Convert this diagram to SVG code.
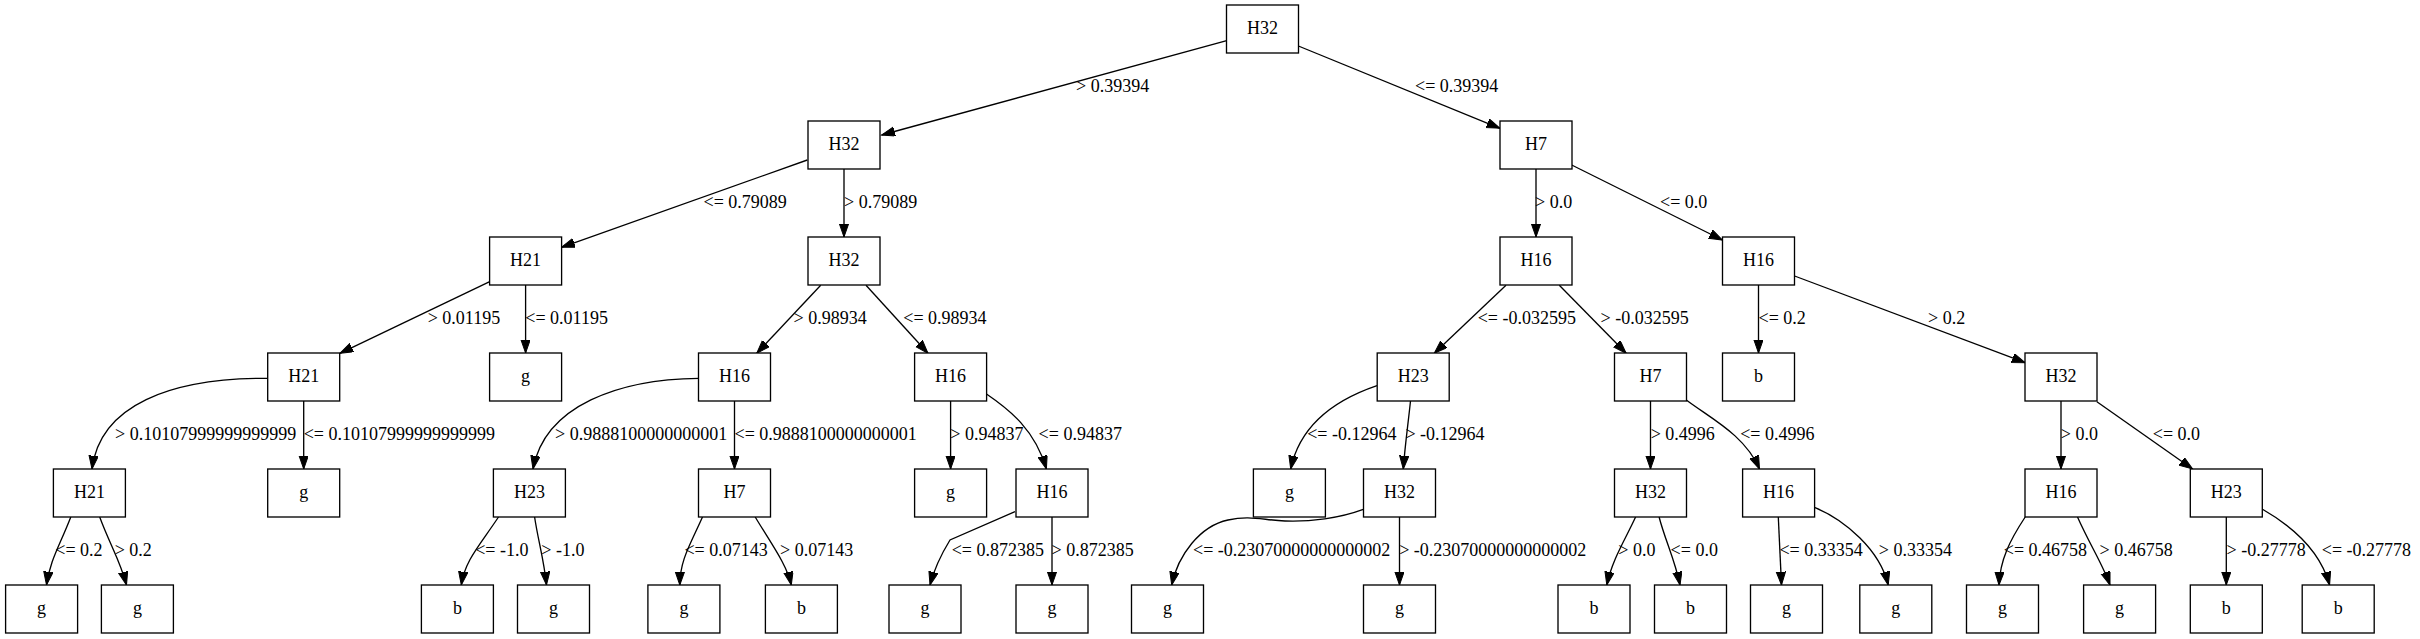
<svg xmlns="http://www.w3.org/2000/svg" width="2420" height="639" viewBox="0 0 2420 639">
<style>
.n rect{fill:#fff;stroke:#000;stroke-width:1.33}
.n text{font-family:"Liberation Serif","Times New Roman",serif;font-size:18px;text-anchor:middle;fill:#000}
.e path{fill:none;stroke:#000;stroke-width:1.33;marker-end:url(#ah)}
.l text{font-family:"Liberation Serif","Times New Roman",serif;font-size:18px;fill:#000}
</style>
<defs>
<marker id="ah" markerUnits="userSpaceOnUse" markerWidth="15" markerHeight="11" refX="13.3" refY="4.67" orient="auto">
<path d="M0,0 L13.3,4.67 L0,9.33 Z" fill="#000" stroke="#000" stroke-width="1"/>
</marker>
</defs>
<rect width="2420" height="639" fill="#fff"/>
<g id="connectors" class="e">
<path d="M1226.7,40.7 L881.6,135"/>
<path d="M1298.4,46 L1499.9,128.3"/>
<path d="M807.3,160 L561.5,247.3"/>
<path d="M844,169 L844,237"/>
<path d="M1536,169 L1536,237"/>
<path d="M1571.7,165 L1722.4,240"/>
<path d="M489.7,281.7 L339.9,353.3"/>
<path d="M525.6,285 L525.6,353"/>
<path d="M820.7,285.3 L756.7,353.3"/>
<path d="M866,285.3 L928,353.3"/>
<path d="M1506,285.3 L1434.3,353.3"/>
<path d="M1559.3,285.3 L1626.2,353.3"/>
<path d="M1758.5,285 L1758.5,353"/>
<path d="M1794.6,276 L2025.2,362.7"/>
<path d="M267.7,378.3 C170,378 100,405 92,469"/>
<path d="M303.7,401 L303.7,469"/>
<path d="M699,378.3 C620,379 545,405 533,469"/>
<path d="M734.5,401 L734.5,469"/>
<path d="M950.6,401 L950.6,469"/>
<path d="M986.5,394 C1010,410 1035,430 1046.4,469"/>
<path d="M1377,385.7 C1335,400 1300,425 1290.7,469"/>
<path d="M1410.5,401 C1408,425 1405,445 1403.3,469"/>
<path d="M1650.5,401 L1650.5,469"/>
<path d="M1686.3,400 C1710,418 1745,435 1759.5,469"/>
<path d="M2061,401 L2061,469"/>
<path d="M2096.9,401.7 L2192.6,469"/>
<path d="M70.8,517 C60,545 50,560 46.5,585"/>
<path d="M99.7,517 C110,545 120,560 126.5,585"/>
<path d="M498.5,517 C480,545 465,560 461.3,585"/>
<path d="M534.6,517 C538,540 544,560 546.5,585"/>
<path d="M702.5,517 C690,545 680,560 679.8,585"/>
<path d="M755.2,517 C772,545 787,565 791.3,585"/>
<path d="M1015,511.7 L950,540 C942,553 934,570 930,585"/>
<path d="M1052,517 L1052,585"/>
<path d="M1363.3,509.3 C1340,518 1310,522 1285,521 C1262,520 1250,515 1228,520 C1200,526 1178,555 1171.7,585"/>
<path d="M1399.5,517 L1399.5,585"/>
<path d="M1635.6,517 C1625,540 1612,560 1606.8,585"/>
<path d="M1659.1,517 C1665,540 1675,560 1680,585"/>
<path d="M1778.3,517 L1781.5,585"/>
<path d="M1814.4,507.3 C1845,520 1880,550 1888.2,585"/>
<path d="M2025.2,517 C2010,540 2000,560 1999,585"/>
<path d="M2077.5,517 C2090,545 2103,565 2110,585"/>
<path d="M2226.3,517 L2226.3,585"/>
<path d="M2262.1,509 C2290,525 2320,550 2329.6,585"/>
</g>
<g id="edge-labels" class="l">
<text x="1076" y="92">&gt; 0.39394</text>
<text x="1415" y="92">&lt;= 0.39394</text>
<text x="703.5" y="208">&lt;= 0.79089</text>
<text x="844" y="208">&gt; 0.79089</text>
<text x="1535" y="208">&gt; 0.0</text>
<text x="1660" y="208">&lt;= 0.0</text>
<text x="427.7" y="324">&gt; 0.01195</text>
<text x="525.3" y="324">&lt;= 0.01195</text>
<text x="793.5" y="324">&gt; 0.98934</text>
<text x="903.3" y="324">&lt;= 0.98934</text>
<text x="1477.7" y="324">&lt;= -0.032595</text>
<text x="1600.5" y="324">&gt; -0.032595</text>
<text x="1758.5" y="324">&lt;= 0.2</text>
<text x="1928" y="324">&gt; 0.2</text>
<text x="115" y="440">&gt; 0.10107999999999999</text>
<text x="303.7" y="440">&lt;= 0.10107999999999999</text>
<text x="555" y="440">&gt; 0.9888100000000001</text>
<text x="734.5" y="440">&lt;= 0.9888100000000001</text>
<text x="950.3" y="440">&gt; 0.94837</text>
<text x="1038.6" y="440">&lt;= 0.94837</text>
<text x="1307.2" y="440">&lt;= -0.12964</text>
<text x="1405.4" y="440">&gt; -0.12964</text>
<text x="1650.7" y="440">&gt; 0.4996</text>
<text x="1740.2" y="440">&lt;= 0.4996</text>
<text x="2060.8" y="440">&gt; 0.0</text>
<text x="2152.8" y="440">&lt;= 0.0</text>
<text x="55.3" y="556">&lt;= 0.2</text>
<text x="114.7" y="556">&gt; 0.2</text>
<text x="475.2" y="556">&lt;= -1.0</text>
<text x="541.3" y="556">&gt; -1.0</text>
<text x="684.4" y="556">&lt;= 0.07143</text>
<text x="780" y="556">&gt; 0.07143</text>
<text x="951.7" y="556">&lt;= 0.872385</text>
<text x="1051.5" y="556">&gt; 0.872385</text>
<text x="1193" y="556">&lt;= -0.23070000000000002</text>
<text x="1399.2" y="556">&gt; -0.23070000000000002</text>
<text x="1618.3" y="556">&gt; 0.0</text>
<text x="1670.6" y="556">&lt;= 0.0</text>
<text x="1779.4" y="556">&lt;= 0.33354</text>
<text x="1878.8" y="556">&gt; 0.33354</text>
<text x="2003.8" y="556">&lt;= 0.46758</text>
<text x="2099.5" y="556">&gt; 0.46758</text>
<text x="2226.6" y="556">&gt; -0.27778</text>
<text x="2321.8" y="556">&lt;= -0.27778</text>
</g>
<g id="n0" class="n"><rect x="1226.5" y="5" width="72" height="48"/><text x="1262.5" y="34">H32</text></g>
<g id="n1" class="n"><rect x="808" y="121" width="72" height="48"/><text x="844" y="150">H32</text></g>
<g id="n2" class="n"><rect x="1500" y="121" width="72" height="48"/><text x="1536" y="150">H7</text></g>
<g id="n3" class="n"><rect x="489.6" y="237" width="72" height="48"/><text x="525.6" y="266">H21</text></g>
<g id="n4" class="n"><rect x="808" y="237" width="72" height="48"/><text x="844" y="266">H32</text></g>
<g id="n5" class="n"><rect x="1500" y="237" width="72" height="48"/><text x="1536" y="266">H16</text></g>
<g id="n6" class="n"><rect x="1722.5" y="237" width="72" height="48"/><text x="1758.5" y="266">H16</text></g>
<g id="n7" class="n"><rect x="267.7" y="353" width="72" height="48"/><text x="303.7" y="382">H21</text></g>
<g id="n8" class="n"><rect x="489.6" y="353" width="72" height="48"/><text x="525.6" y="382">g</text></g>
<g id="n9" class="n"><rect x="698.5" y="353" width="72" height="48"/><text x="734.5" y="382">H16</text></g>
<g id="n10" class="n"><rect x="914.6" y="353" width="72" height="48"/><text x="950.6" y="382">H16</text></g>
<g id="n11" class="n"><rect x="1377.2" y="353" width="72" height="48"/><text x="1413.2" y="382">H23</text></g>
<g id="n12" class="n"><rect x="1614.5" y="353" width="72" height="48"/><text x="1650.5" y="382">H7</text></g>
<g id="n13" class="n"><rect x="1722.5" y="353" width="72" height="48"/><text x="1758.5" y="382">b</text></g>
<g id="n14" class="n"><rect x="2025" y="353" width="72" height="48"/><text x="2061" y="382">H32</text></g>
<g id="n15" class="n"><rect x="53.4" y="469" width="72" height="48"/><text x="89.4" y="498">H21</text></g>
<g id="n16" class="n"><rect x="267.7" y="469" width="72" height="48"/><text x="303.7" y="498">g</text></g>
<g id="n17" class="n"><rect x="493.4" y="469" width="72" height="48"/><text x="529.4" y="498">H23</text></g>
<g id="n18" class="n"><rect x="698.5" y="469" width="72" height="48"/><text x="734.5" y="498">H7</text></g>
<g id="n19" class="n"><rect x="914.6" y="469" width="72" height="48"/><text x="950.6" y="498">g</text></g>
<g id="n20" class="n"><rect x="1016" y="469" width="72" height="48"/><text x="1052" y="498">H16</text></g>
<g id="n21" class="n"><rect x="1253.4" y="469" width="72" height="48"/><text x="1289.4" y="498">g</text></g>
<g id="n22" class="n"><rect x="1363.5" y="469" width="72" height="48"/><text x="1399.5" y="498">H32</text></g>
<g id="n23" class="n"><rect x="1614.5" y="469" width="72" height="48"/><text x="1650.5" y="498">H32</text></g>
<g id="n24" class="n"><rect x="1742.6" y="469" width="72" height="48"/><text x="1778.6" y="498">H16</text></g>
<g id="n25" class="n"><rect x="2025" y="469" width="72" height="48"/><text x="2061" y="498">H16</text></g>
<g id="n26" class="n"><rect x="2190.3" y="469" width="72" height="48"/><text x="2226.3" y="498">H23</text></g>
<g id="n27" class="n"><rect x="5.6" y="585" width="72" height="48"/><text x="41.6" y="614">g</text></g>
<g id="n28" class="n"><rect x="101.4" y="585" width="72" height="48"/><text x="137.4" y="614">g</text></g>
<g id="n29" class="n"><rect x="421.4" y="585" width="72" height="48"/><text x="457.4" y="614">b</text></g>
<g id="n30" class="n"><rect x="517.5" y="585" width="72" height="48"/><text x="553.5" y="614">g</text></g>
<g id="n31" class="n"><rect x="647.9" y="585" width="72" height="48"/><text x="683.9" y="614">g</text></g>
<g id="n32" class="n"><rect x="765.4" y="585" width="72" height="48"/><text x="801.4" y="614">b</text></g>
<g id="n33" class="n"><rect x="889" y="585" width="72" height="48"/><text x="925" y="614">g</text></g>
<g id="n34" class="n"><rect x="1016" y="585" width="72" height="48"/><text x="1052" y="614">g</text></g>
<g id="n35" class="n"><rect x="1131.5" y="585" width="72" height="48"/><text x="1167.5" y="614">g</text></g>
<g id="n36" class="n"><rect x="1363.5" y="585" width="72" height="48"/><text x="1399.5" y="614">g</text></g>
<g id="n37" class="n"><rect x="1558" y="585" width="72" height="48"/><text x="1594" y="614">b</text></g>
<g id="n38" class="n"><rect x="1654.5" y="585" width="72" height="48"/><text x="1690.5" y="614">b</text></g>
<g id="n39" class="n"><rect x="1750.5" y="585" width="72" height="48"/><text x="1786.5" y="614">g</text></g>
<g id="n40" class="n"><rect x="1859.8" y="585" width="72" height="48"/><text x="1895.8" y="614">g</text></g>
<g id="n41" class="n"><rect x="1966.5" y="585" width="72" height="48"/><text x="2002.5" y="614">g</text></g>
<g id="n42" class="n"><rect x="2083.6" y="585" width="72" height="48"/><text x="2119.6" y="614">g</text></g>
<g id="n43" class="n"><rect x="2190.3" y="585" width="72" height="48"/><text x="2226.3" y="614">b</text></g>
<g id="n44" class="n"><rect x="2302.2" y="585" width="72" height="48"/><text x="2338.2" y="614">b</text></g>
</svg>
